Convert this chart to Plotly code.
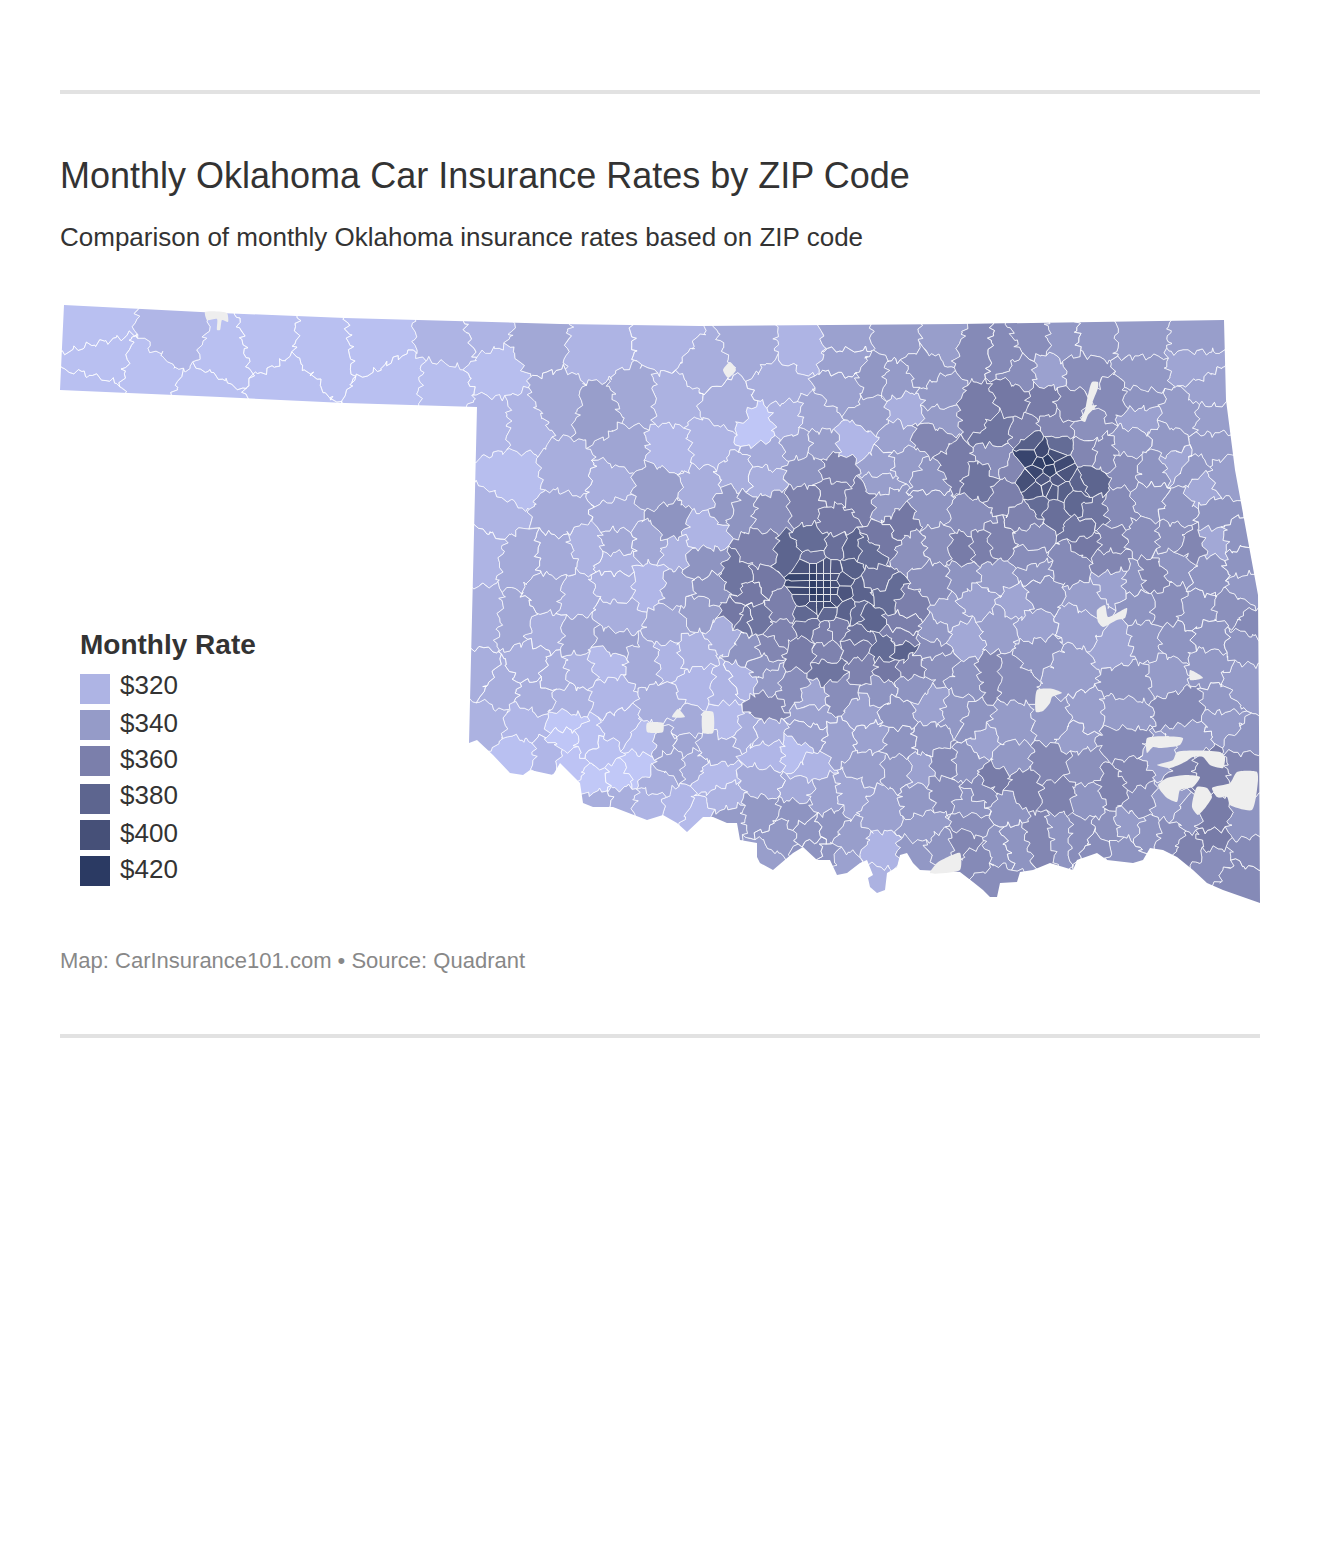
import numpy as np
import plotly.graph_objects as go

# ---------------- DATA ----------------
legend_rates = [320, 340, 360, 380, 400, 420]
scale_rates = [300, 310, 320, 340, 360, 380, 400, 420]
scale_colors = ["#c5cbfa", "#b9c0f1", "#aeb4e4", "#959bc8", "#7b7fab", "#5d658f", "#465078", "#2b3a63"]

# ZIP areas: (map x, map y, monthly rate)
panhandle = [(90,325,310),(100,362,310),(92,392,310),(178,340,318),(150,375,310),(225,355,310),(205,395,310),
 (265,345,310),(285,385,310),(325,350,310),(375,345,310),(395,385,310),(445,390,312),(455,340,320)]
northwest = [(483,330,320),(537,343,330),(597,350,320),(670,343,320),(497,373,312),(557,403,330),(600,413,338),(633,400,330),
 (493,420,318),(523,420,320),(670,450,318),(513,483,312),(570,473,325),(623,450,332),(657,487,338),(675,400,322),(703,367,325),
 (727,407,325),(710,443,320),(610,483,325),(563,513,328),(617,517,328),(497,513,320),(703,490,325),(730,503,342),(670,523,345)]
north_central = [(800,347,320),(753,347,328),(847,340,335),(847,360,335),(897,340,340),(943,340,338),(977,350,352),(780,383,325),
 (843,390,335),(873,377,343),(897,380,340),(923,370,345),(937,397,342),(980,413,362),(760,430,305),(787,423,322),(817,420,332),
 (870,417,338),(857,440,318),(897,437,335),(930,437,355),(907,410,325),(937,417,340),(767,453,328),(800,443,335),(820,443,338),
 (760,480,325),(740,477,325),(807,470,345),(837,473,358),(833,490,360),(880,483,338),(880,467,335),(907,463,340),(930,477,345),
 (953,467,362),(980,480,368),(807,503,360),(770,510,350),(740,507,345),(837,520,365),(860,500,362),(887,503,342),(930,507,345),
 (970,517,350),(900,523,365)]
northeast = [(1003,353,352),(1033,340,350),(1063,340,342),(1093,337,342),(1140,337,340),(1197,340,338),(1083,373,350),(1023,373,350),
 (1047,373,335),(1140,377,342),(1197,363,332),(1210,390,335),(1013,400,365),(1043,400,362),(1070,407,358),(1113,400,352),(1090,427,348),
 (1137,417,335),(1137,400,345),(1183,417,340),(1210,420,338),(1023,433,360),(997,430,368),(1057,427,355),(1130,443,342),(1170,443,342),
 (1210,447,340),(1030,443,385),(1057,447,375),(1087,453,355),(1013,470,355),(1007,493,360),(997,460,350),(1093,513,368),(1103,453,352),
 (1127,467,350),(1150,470,345),(1177,460,332),(1203,487,330),(1223,477,338),(1193,470,342),(1120,510,352),(1150,500,345),(1177,510,345),
 (1217,517,345),(1027,517,358),(1087,480,380),(1053,510,372),(1040,505,375),(1075,500,378)]
tulsa = [(1030,457,410),(1048,460,420),(1040,463,415),(1060,467,405),(1028,480,400),(1043,480,392),(1057,480,390),(1063,473,395),
 (1050,470,412),(1036,472,408),(1080,483,382),(1063,490,385),(1047,487,392),(1053,490,388),(1036,489,392),(1042,452,405),(1054,455,400)]
west_central = [(483,553,320),(520,560,328),(557,557,328),(587,547,322),(617,543,330),(650,543,330),(617,563,322),(650,583,318),
 (550,593,330),(573,597,325),(617,583,322),(677,553,322),(700,533,320),(700,563,345),(710,590,345),(677,587,335),(513,620,330),(487,617,325),
 (547,633,325),(577,637,332),(617,620,325),(613,640,335),(647,663,328),(670,660,320),(693,653,322),(670,627,330),(700,610,338),(727,633,325),
 (737,617,365),(533,663,325),(553,673,325),(580,670,322),(603,663,315),(477,680,325),(497,690,325),(537,697,325),(610,697,318),(570,703,322),
 (697,683,318),(727,687,320),(663,707,325)]
southwest = [(483,720,322),(567,723,305),(527,723,318),(620,727,318),(727,720,315),(683,727,328),(520,757,310),(547,757,318),(567,737,305),
 (570,763,307),(587,740,310),(603,753,310),(617,777,303),(637,767,305),(597,780,303),(603,803,325),(620,800,325),(650,803,320),(677,807,318),
 (697,817,315),(723,800,322),(713,777,315),(667,743,332),(683,743,332),(713,750,328),(673,762,333),(693,763,328),(657,783,325),(643,740,312),(727,817,340)]
central = [(763,553,360),(740,580,368),(763,580,365),(788,557,380),(813,545,375),(813,557,370),(837,550,372),(850,552,382),(868,553,375),
 (883,540,365),(913,550,348),(937,547,348),(963,550,362),(983,547,360),(850,567,385),(863,590,382),(873,583,370),(887,597,375),(857,613,375),
 (847,610,382),(867,617,380),(907,607,360),(903,623,360),(900,637,360),(933,580,350),(963,577,345),(977,600,335),(950,617,338),(963,637,330),
 (937,633,342),(757,620,368),(783,607,360),(750,590,365),(743,620,368),(780,633,358),(810,627,370),(823,633,360),(837,630,362),(857,637,370),
 (807,613,378),(827,610,378),(800,653,362),(770,647,355),(747,650,345),(827,653,358),(857,647,365),(863,667,358),(887,650,375),(900,650,382),
 (887,670,365),(910,667,358),(827,670,368),(937,663,348),(933,650,350),(763,667,345),(740,680,320),(770,680,342),(793,687,350),(763,710,355),
 (813,697,332),(840,693,350),(880,690,345),(913,687,345),(930,707,335),(813,717,335),(863,713,335),(897,713,345),(750,727,325),(970,680,345),
 (990,677,355),(973,720,345),(957,713,342)]
okc = [(806,570,395),(813,570,405),(820,570,400),(827,570,395),(834,570,390),(806,577,410),(813,577,415),(820,577,405),(827,577,405),(834,577,395),
 (806,584,405),(813,584,415),(820,584,410),(827,584,415),(834,584,400),(806,591,405),(813,591,420),(820,591,415),(827,591,410),(834,591,405),
 (806,598,395),(813,598,410),(820,598,415),(827,598,410),(834,598,395),(813,605,395),(820,605,400),(827,605,405),(841,580,392),(841,592,395)]
east_central = [(1033,537,352),(1030,560,350),(997,543,358),(1070,563,352),(1087,543,365),(1110,543,358),(1083,530,368),(1143,537,350),
 (1173,537,348),(1217,540,330),(1190,547,355),(1233,537,345),(1110,560,355),(1137,583,345),(1150,580,355),(1177,563,345),(1210,573,345),
 (1243,563,345),(1247,587,342),(997,577,340),(1033,570,345),(1017,603,332),(1040,593,345),(1087,603,338),(1113,583,335),(1140,603,345),
 (1167,603,350),(1197,613,345),(1233,610,348),(1247,627,352),(1000,627,338),(1033,627,335),(1080,620,335),(1120,647,332),(1143,643,342),
 (1177,643,345),(1210,637,345),(1243,640,345),(1067,673,338),(1010,677,350),(1037,653,345),(1130,680,345),(1167,673,340),(1207,663,342),
 (1240,687,340),(1223,703,342),(1183,710,352),(1123,717,340),(1083,717,338),(1060,723,342),(1007,727,340)]
south_central = [(763,730,325),(767,757,318),(797,757,312),(763,780,328),(807,767,320),(760,813,342),(780,837,342),(763,860,338),(800,790,328),
 (797,813,345),(810,733,335),(840,740,335),(867,767,338),(870,737,335),(900,743,345),(900,770,342),(930,740,345),(920,770,335),(943,763,352),
 (880,807,335),(853,793,332),(943,793,350),(920,800,342),(927,827,340),(830,827,345),(810,833,345),(823,797,335),(843,863,335),(880,857,320),
 (847,840,338),(877,877,322),(917,857,342),(940,847,345),(970,823,350),(963,843,355),(977,860,352),(990,880,350),(983,790,352),(970,807,345),
 (993,780,362),(967,763,345),(987,743,335),(813,850,345),(827,857,345)]
southeast = [(1007,757,342),(1073,733,338),(1123,740,352),(1083,770,348),(1087,800,345),(1023,790,360),(1007,807,345),(1053,767,355),(1060,793,358),
 (1113,787,358),(1133,777,355),(1163,760,338),(1190,737,340),(1223,720,340),(1247,743,345),(1140,800,350),(1167,803,340),(1190,817,345),(1210,823,362),
 (1247,763,355),(1207,770,362),(1183,770,358),(1247,827,345),(1040,837,355),(1060,833,345),(1013,843,345),(1000,847,345),(1080,833,350),(1107,833,348),
 (1130,827,340),(1147,833,345),(1170,837,350),(1190,847,358),(1213,863,350),(1237,880,352),(1250,850,352),(1210,837,362),(1100,843,350),(1123,850,345)]
zip_areas = panhandle + northwest + north_central + northeast + tulsa + west_central + southwest + central + okc + east_central + south_central + southeast

state_x = [64,220,345,480,560,700,830,960,1100,1224,1226,1235,1258,1259,1260,1253,1223,1207,1193,1177,1163,1150,1143,1133,1107,1097,1077,1073,1050,1033,1020,1017,1000,997,
 990,983,973,960,920,913,907,900,897,887,885,877,870,868,873,867,860,847,837,830,817,803,793,773,760,757,757,740,737,727,713,703,687,677,663,647,633,613,593,583,580,572,560,553,530,523,510,493,477,469,472,477,345,220,60]
state_y = [305,313,318,322,324,326,325,324,322,320,400,470,595,730,903,900,890,883,870,857,850,848,860,863,860,853,860,870,863,870,872,882,883,897,
 897,890,882,872,870,863,853,855,867,873,890,893,887,878,875,860,863,873,875,860,860,847,853,870,863,857,843,840,823,823,817,817,832,823,815,820,815,807,807,803,783,775,763,775,770,775,773,755,740,743,630,407,403,397,390]

lakes = [
 ([1037,1053,1062,1052,1050,1043,1036],[690,689,693,697,703,711,712]),
 ([1097,1105,1108,1127,1125,1117,1103,1098],[610,605,617,608,618,620,627,622]),
 ([1092,1098,1098,1092,1097,1088,1085,1081,1085,1088],[382,382,388,405,405,415,422,420,410,395]),
 ([1147,1183,1180,1160,1153,1147],[738,738,745,748,747,753]),
 ([1157,1173,1177,1220,1225,1223,1210,1203,1193,1185,1170],[765,760,752,752,757,768,765,757,757,762,768]),
 ([1158,1167,1187,1200,1193,1180,1177,1167,1160],[785,778,775,777,787,790,802,798,790]),
 ([1192,1197,1207,1212,1198],[807,787,788,797,815]),
 ([1212,1230,1237,1257,1258,1252,1230,1227,1217],[788,783,772,772,780,810,805,797,797]),
 ([647,663,663,647],[723,723,732,732]),
 ([672,678,685],[717,709,717]),
 ([703,713,713,703],[712,712,733,733]),
 ([723,730,736,728],[370,362,370,378]),
 ([205,227,228,222,220,217,217,207],[312,313,322,320,330,330,319,320]),
 ([1190,1200,1203,1195,1190],[670,675,678,680,680]),
 ([937,960,960,930],[863,853,870,873]),
]

title_text = "Monthly Oklahoma Car Insurance Rates by ZIP Code"
subtitle_text = "Comparison of monthly Oklahoma insurance rates based on ZIP code"
legend_title = "Monthly Rate"
footer_text = "Map: CarInsurance101.com • Source: Quadrant"

# ---------------- GEOMETRY ----------------
FONT = "Liberation Sans"
W, H = 1320, 1544
BOX = [(50, 295), (1270, 295), (1270, 910), (50, 910)]
CITY = [(820, 585), (1046, 470)]

def rate_color(rate):
    rgb = [int(c[i:i+2], 16) for c in scale_colors for i in (1, 3, 5)]
    rgb = np.array(rgb).reshape(-1, 3)
    vals = [np.interp(rate, scale_rates, rgb[:, k]) for k in range(3)]
    return "rgb(%d,%d,%d)" % tuple(round(v) for v in vals)

def clip(poly, px, py, qx, qy):
    mx, my, nx, ny = (px + qx) / 2, (py + qy) / 2, qx - px, qy - py
    out = []
    for i in range(len(poly)):
        a, b = poly[i], poly[(i + 1) % len(poly)]
        da = (a[0] - mx) * nx + (a[1] - my) * ny
        db = (b[0] - mx) * nx + (b[1] - my) * ny
        if da <= 0:
            out.append(a)
        if da * db < 0:
            t = da / (da - db)
            out.append((a[0] + t * (b[0] - a[0]), a[1] + t * (b[1] - a[1])))
    return out

def warp(x, y):
    d = min(np.hypot(x - cx, y - cy) for cx, cy in CITY)
    amp = min(1.0, max(0.0, (d - 25) / 30))
    dx = 2.6 * np.sin(y * 0.47 + x * 0.11) + 1.5 * np.sin(y * 1.07 - x * 0.31)
    dy = 2.6 * np.sin(x * 0.43 - y * 0.13) + 1.5 * np.sin(x * 1.13 + y * 0.37)
    return x + amp * dx, y + amp * dy

def cell_outline(i):
    sx, sy, _ = zip_areas[i]
    poly = list(BOX)
    others = sorted((a for j, a in enumerate(zip_areas) if j != i),
                    key=lambda a: (a[0] - sx) ** 2 + (a[1] - sy) ** 2)
    for ox, oy, _ in others[:45]:
        poly = clip(poly, sx, sy, ox, oy)
    xs, ys = [], []
    for k in range(len(poly)):
        a, b = poly[k], poly[(k + 1) % len(poly)]
        n = max(1, int(np.hypot(b[0] - a[0], b[1] - a[1]) / 3))
        for t in range(n):
            wx, wy = warp(a[0] + (b[0] - a[0]) * t / n, a[1] + (b[1] - a[1]) * t / n)
            xs.append(round(wx, 1))
            ys.append(round(wy, 1))
    xs.append(xs[0])
    ys.append(ys[0])
    return xs, ys

groups = {}
for i, area in enumerate(zip_areas):
    xs, ys = cell_outline(i)
    gx, gy = groups.setdefault(area[2], ([], []))
    gx += xs + [None]
    gy += ys + [None]

fig = go.Figure()
for rate in sorted(groups):
    gx, gy = groups[rate]
    fig.add_trace(go.Scatter(x=gx, y=gy, mode="lines", fill="toself", fillcolor=rate_color(rate),
                             line=dict(color="rgba(255,255,255,0.68)", width=1), hoverinfo="skip",
                             name=f"${rate}", showlegend=False))

# white surround that trims the areas to the state's outline (outer ring and state wound in opposite senses)
mx = [40, 1280, 1280, 40, 40] + state_x[::-1] + [state_x[-1], 40]
my = [285, 285, 920, 920, 285] + state_y[::-1] + [state_y[-1], 285]
fig.add_trace(go.Scatter(x=mx, y=my, mode="lines", fill="toself", fillcolor="#ffffff",
                         line=dict(width=0, color="#ffffff"), hoverinfo="skip", showlegend=False))

lx, ly = [], []
for xs, ys in lakes:
    lx += xs + [xs[0], None]
    ly += ys + [ys[0], None]
fig.add_trace(go.Scatter(x=lx, y=ly, mode="lines", fill="toself", fillcolor="#eeeeee",
                         line=dict(width=0, color="#eeeeee", shape="spline", smoothing=0.6), hoverinfo="skip", showlegend=False))

# legend
swatch_y = [689, 725, 761, 799, 835, 871]
label_y = [685, 723, 759, 795, 833, 869]
fig.add_trace(go.Scatter(x=[95] * len(legend_rates), y=swatch_y, mode="markers", hoverinfo="skip", showlegend=False,
                         marker=dict(symbol="square", size=30, line=dict(width=0),
                                     color=[rate_color(r) for r in legend_rates])))

def note(x, y, text, size, color, bold=False):
    return dict(x=x, y=y, xref="x", yref="y", xanchor="left", yanchor="middle", showarrow=False,
                text=f"<b>{text}</b>" if bold else text, font=dict(family=FONT, size=size, color=color))

notes = [note(58, 237, subtitle_text, 26, "#333333"),
         note(78, 644, legend_title, 28, "#333333", True),
         note(58, 960, footer_text, 22, "#888888")]
notes += [note(118, y, f"${r}", 26, "#333333") for r, y in zip(legend_rates, label_y)]

rules = [dict(type="line", xref="x", yref="y", x0=60, x1=1260, y0=y, y1=y, line=dict(color="#e2e2e2", width=4))
         for y in (92, 1036)]

fig.update_layout(
    width=W, height=H, margin=dict(l=0, r=0, t=0, b=0), paper_bgcolor="white", plot_bgcolor="white",
    xaxis=dict(range=[0, W], visible=False, fixedrange=True),
    yaxis=dict(range=[H, 0], visible=False, fixedrange=True),
    title=dict(text=title_text, x=60 / W, xanchor="left", y=1 - 175 / H, yanchor="middle",
               font=dict(family=FONT, size=36, color="#333333")),
    annotations=notes, shapes=rules, showlegend=False,
)
fig.write_html("out.html", config={"displayModeBar": False},
               post_script="document.body.style.margin='0';document.body.style.overflow='hidden';")
